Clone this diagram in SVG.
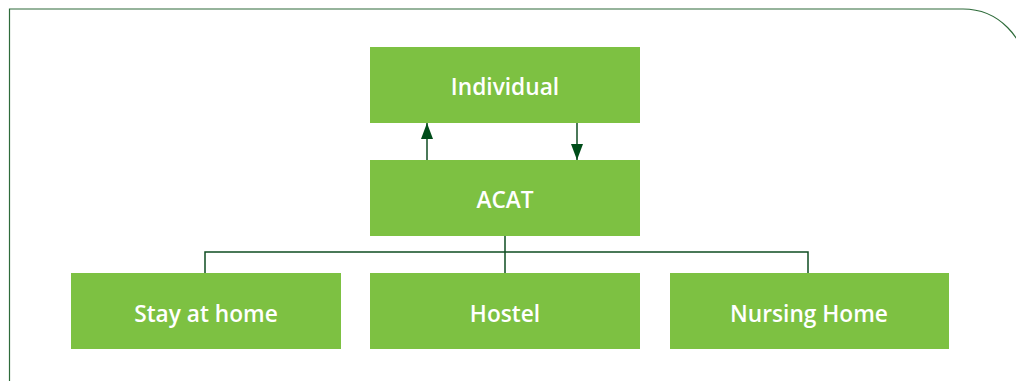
<svg xmlns="http://www.w3.org/2000/svg" width="1016" height="381" viewBox="0 0 1016 381">
<style>
.box{fill:#7dc142}
.lbl{font-family:"Open Sans","Noto Sans",sans-serif;font-weight:600;font-size:22.7px;fill:#ffffff;text-anchor:middle}
.ln{fill:none;stroke:#0f4d22;stroke-width:1.5}
.frame{fill:none;stroke:#2e6b3a;stroke-width:1.2}
</style>
<defs>
<marker id="ah2" viewBox="0 0 16 12" refX="16" refY="6" markerWidth="16" markerHeight="12" markerUnits="userSpaceOnUse" orient="auto">
<path d="M0,0 L16,6 L0,12 z" fill="#004d1a"/>
</marker>
</defs>
<path class="frame" d="M9.5 381 V9 H963 A63 63 0 0 1 1026 72"/>
<g id="connectors">
<line class="ln" x1="427" y1="160" x2="427" y2="123" marker-end="url(#ah2)"/>
<line class="ln" x1="577" y1="123" x2="577" y2="160" marker-end="url(#ah2)"/>
<path class="ln" d="M505 236 V273 M205 273 V252 H808 V273"/>
</g>
<g id="individual"><rect class="box" x="370" y="47" width="270" height="76"/><text class="lbl" x="505" y="95">Individual</text></g>
<g id="acat"><rect class="box" x="370" y="160" width="270" height="76"/><text class="lbl" x="505" y="208">ACAT</text></g>
<g id="stay"><rect class="box" x="71" y="273" width="270" height="76"/><text class="lbl" x="206" y="322">Stay at home</text></g>
<g id="hostel"><rect class="box" x="370" y="273" width="270" height="76"/><text class="lbl" x="505" y="322">Hostel</text></g>
<g id="nursing"><rect class="box" x="670" y="273" width="279" height="76"/><text class="lbl" x="809" y="322">Nursing Home</text></g>
</svg>
